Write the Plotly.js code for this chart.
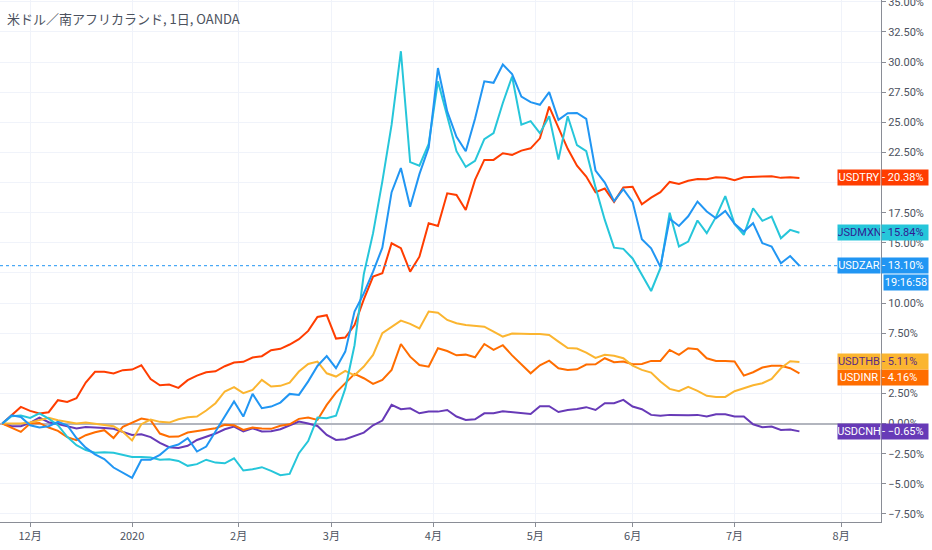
<!DOCTYPE html>
<html>
<head>
<meta charset="utf-8">
<script src="https://cdn.plot.ly/plotly-3.0.1.min.js"></script>
<style>
html,body{margin:0;padding:0;background:#ffffff;}
#chart{width:932px;height:550px;}
</style>
</head>
<body>
<div id="chart"></div>
<script>
// ---- data (percent change since first bar, sampled every second trading day) ----
const firstDay = '2019-11-22';
const lastDay = '2020-07-21';

const usdtry = [0, 0.69, 1.38, 1.05, 0.83, 0.94, 1.94, 1.8, 2.1, 3.4,
  4.3, 4.29, 4.15, 4.43, 4.48, 4.84, 3.7, 3.18, 3.24, 2.96,
  3.6, 3.98, 4.26, 4.34, 4.76, 5.06, 5.12, 5.48, 5.59, 6.09,
  6.2, 6.56, 7.0, 7.69, 8.85, 8.99, 7.05, 7.14, 8.18, 10.3,
  12.2, 12.47, 14.96, 14.55, 12.61, 13.85, 16.62, 16.4, 19.11, 18.97,
  17.73, 20.22, 21.88, 21.88, 22.43, 22.3, 22.65, 22.84, 23.67, 26.3,
  24.5, 22.8, 21.4, 20.5, 19.2, 19.5, 18.4, 19.6, 19.65, 18.2,
  18.75, 19.2, 20.05, 19.88, 20.15, 20.3, 20.28, 20.44, 20.39, 20.19,
  20.44, 20.5, 20.5, 20.53, 20.39, 20.44, 20.38];

const usdmxn = [0, 0.6, 0.66, 0.47, 0.85, 0.41, -0.14, -1.1, -1.8, -2.2,
  -2.43, -2.38, -2.43, -2.63, -2.77, -2.77, -2.82, -3.0, -2.96, -3.1,
  -3.51, -3.37, -3.0, -3.24, -3.3, -2.88, -3.9, -3.79, -3.62, -3.93,
  -4.29, -4.18, -2.46, -1.45, 0.5, 0.45, 0.65, 2.9, 6.5, 12.4,
  15.8, 20.1, 24.8, 30.9, 21.7, 21.4, 23.2, 28.4, 25.6, 22.6,
  21.3, 21.8, 23.6, 24.1, 26.6, 28.8, 24.8, 25.1, 24.1, 25.5,
  21.9, 25.5, 23.1, 22.6, 19.6, 16.9, 14.6, 14.5, 13.7, 12.3,
  11.0, 12.9, 17.5, 14.7, 15.1, 16.85, 15.8, 17.15, 18.87, 16.57,
  15.66, 17.87, 16.82, 17.18, 15.38, 16.07, 15.84];

const usdzar = [0, 0.69, 0.55, -0.14, -0.33, -0.22, 0.14, -0.14, -1.2, -2.0,
  -2.55, -2.95, -3.65, -4.05, -4.5, -3.0, -3.0, -2.6, -1.95, -1.74,
  -1.22, -2.32, -1.91, -0.66, 0.58, 1.83, 0.58, 2.46, 1.27, 1.41,
  1.74, 2.46, 2.38, 3.5, 4.78, 5.6, 4.6, 5.97, 9.3, 10.8,
  12.6, 14.6, 19.2, 21.2, 18.0, 20.7, 22.9, 29.5, 25.9, 23.8,
  22.6, 25.3, 28.4, 28.28, 29.8, 29.0, 27.14, 26.67, 26.45, 27.5,
  25.2, 25.75, 25.78, 25.28, 21.0, 20.0, 18.45, 19.45, 18.4, 15.3,
  14.55, 13.0, 17.0, 16.4, 17.2, 18.42, 17.6, 17.04, 17.65, 16.57,
  15.93, 16.63, 14.97, 14.69, 13.3, 13.9, 13.10];

const usdthb = [0, 0, 0, 0.08, 0.28, 0.47, 0.28, 0.14, 0, 0.08,
  0, -0.08, -0.22, -0.69, -1.4, -0.05, 0.33, 0.14, 0.08, 0.36,
  0.53, 0.58, 1.08, 1.69, 2.66, 3.02, 2.52, 2.79, 3.62, 3.07,
  3.13, 3.4, 4.32, 4.95, 5.14, 4.17, 3.9, 4.37, 4.0, 4.73,
  5.7, 7.5, 8.04, 8.54, 8.27, 7.9, 9.3, 9.2, 8.6, 8.32,
  8.18, 8.1, 8.04, 7.63, 7.22, 7.47, 7.43, 7.43, 7.43, 7.35,
  6.8, 6.27, 6.22, 5.89, 5.45, 5.7, 5.62, 5.42, 4.81, 4.45,
  4.23, 3.49, 2.88, 2.68, 3.04, 2.71, 2.3, 2.21, 2.21, 2.68,
  2.93, 3.18, 3.35, 3.71, 4.59, 5.17, 5.11];

const usdinr = [0, -0.33, -0.69, 0, 0.05, -0.33, -0.61, -1.13, -1.38, -0.97,
  -0.72, -0.55, -1.2, -0.28, 0.08, 0.41, 0.28, -0.83, -1.1, -1.08,
  -0.75, -0.61, -0.47, -0.39, -0.11, -0.14, -0.53, -0.33, -0.41, -0.44,
  -0.19, -0.06, 0.39, 0.5, 0.3, 1.55, 2.57, 3.34, 4.12, 3.76,
  3.29, 3.62, 4.45, 6.6, 5.55, 4.86, 4.72, 6.25, 6.02, 5.66,
  5.72, 5.5, 6.6, 6.11, 6.5, 5.66, 4.94, 4.17, 4.84, 5.22,
  4.59, 4.45, 4.5, 4.9, 4.92, 5.42, 5.09, 5.15, 4.92, 4.95,
  5.2, 5.2, 6.11, 5.7, 6.25, 6.17, 5.42, 5.2, 5.2, 5.15,
  3.98, 4.26, 4.65, 4.79, 4.79, 4.59, 4.16];

const usdcnh = [0, -0.22, -0.22, 0.05, 0.5, 0.11, -0.03, -0.22, -0.41, -0.28,
  -0.3, -0.36, -0.44, -0.72, -0.94, -0.89, -1.13, -1.6, -1.96, -2.02,
  -1.85, -1.36, -1.11, -0.83, -0.47, -0.25, -0.66, -0.39, -0.66, -0.64,
  -0.47, -0.17, 0.17, 0.0, -0.2, -0.95, -1.36, -1.3, -1.03, -0.75,
  -0.14, 0.25, 1.55, 1.19, 1.27, 0.85, 0.99, 0.99, 1.13, 0.58,
  0.3, 0.35, 0.85, 0.85, 1.02, 0.96, 0.91, 0.8, 1.44, 1.44,
  0.96, 1.13, 1.21, 1.36, 1.13, 1.69, 1.69, 1.96, 1.41, 1.19,
  0.72, 0.64, 0.72, 0.69, 0.69, 0.72, 0.58, 0.77, 0.77, 0.58,
  0.58, -0.06, -0.3, -0.25, -0.53, -0.5, -0.65];

const seriesNames = ['USDCNH', 'USDINR', 'USDTHB', 'USDTRY', 'USDMXN', 'USDZAR'];
const seriesColors = ['#673ab7', '#ff6d00', '#fbb530', '#ff3d00', '#26c6da', '#2196f3'];
const tagTextColors = ['#ffffff', '#ffffff', '#5b2c83', '#ffffff', '#311b92', '#ffffff'];
const tagShift = [0, -4, 0, 0, 0, 0];

const monthTickDates = ['2019-12-02', '2020-01-01', '2020-02-03', '2020-03-02', '2020-04-01',
  '2020-05-01', '2020-06-01', '2020-07-01', '2020-08-03'];
const monthTickLabels = ['12月', '2020', '2月', '3月', '4月', '5月', '6月', '7月', '8月'];

const yTickValues = [-7.5, -5, -2.5, 0, 2.5, 5, 7.5, 10, 12.5, 15, 17.5, 20, 22.5, 25, 27.5, 30, 32.5, 35];
// labels that sit fully behind a price tag in the reference
const yTicksHidden = [5, 12.5, 20];

const titleText = '米ドル／南アフリカランド, 1日, OANDA';
const clockText = '19:16:58';

// ---- build ----
function tradingDays(startIso, endIso) {
  const out = [];
  const d = new Date(startIso + 'T00:00:00Z');
  const end = new Date(endIso + 'T00:00:00Z');
  while (d <= end) {
    const w = d.getUTCDay();
    if (w !== 0 && w !== 6) out.push(d.toISOString().slice(0, 10));
    d.setUTCDate(d.getUTCDate() + 1);
  }
  return out;
}
const dates = tradingDays(firstDay, lastDay).filter((_, i) => i % 2 === 0);

const allSeries = [usdcnh, usdinr, usdthb, usdtry, usdmxn, usdzar];

const traces = allSeries.map((vals, i) => ({
  type: 'scatter',
  mode: 'lines',
  name: seriesNames[i],
  x: dates,
  y: vals,
  line: {color: seriesColors[i], width: 2},
  hoverinfo: 'skip'
}));

function fmtPct(v) {
  const s = Math.abs(v).toFixed(2) + '%';
  return v < 0 ? '\u2212' + s : s;
}
const yTickText = yTickValues.map(v => yTicksHidden.includes(v) ? '' : fmtPct(v));

const tagFont = 'Roboto, "Liberation Sans", Arial, sans-serif';
const annotations = [];
allSeries.forEach((vals, i) => {
  const last = vals[vals.length - 1];
  annotations.push({
    xref: 'paper', yref: 'y', x: 1, y: last, xanchor: 'right', yanchor: 'middle',
    text: seriesNames[i], showarrow: false, bgcolor: seriesColors[i],
    font: {family: tagFont, size: 11, color: tagTextColors[i]},
    width: 42, height: 15, borderpad: 0, yshift: tagShift[i]
  });
  annotations.push({
    xref: 'paper', yref: 'y', x: 1, y: last, xanchor: 'left', yanchor: 'middle',
    text: '- ' + fmtPct(last), showarrow: false, bgcolor: seriesColors[i], align: 'left',
    font: {family: tagFont, size: 11, color: tagTextColors[i]},
    width: 46, height: 15, borderpad: 0, yshift: tagShift[i], xshift: 0
  });
});
const zarLast = usdzar[usdzar.length - 1];
annotations.push({
  xref: 'paper', yref: 'y', x: 1, y: zarLast, xanchor: 'left', yanchor: 'top',
  text: clockText, showarrow: false, bgcolor: '#2196f3',
  font: {family: tagFont, size: 11, color: '#ffffff'},
  width: 44, height: 15, borderpad: 0, yshift: -8, xshift: 2
});
annotations.push({
  xref: 'paper', yref: 'paper', x: 0, y: 1, xanchor: 'left', yanchor: 'top',
  text: titleText, showarrow: false, xshift: 5, yshift: -7,
  font: {family: '"Noto Sans CJK JP", "Noto Sans", sans-serif', size: 13, color: '#4c525e'}
});

const layout = {
  width: 932, height: 550,
  margin: {l: 0, r: 51, t: 0, b: 28, pad: 0},
  paper_bgcolor: '#ffffff', plot_bgcolor: '#ffffff',
  showlegend: false,
  hovermode: false,
  xaxis: {
    type: 'date',
    range: ['2019-11-21 12:00', '2020-08-13 14:24'],
    rangebreaks: [{bounds: ['sat', 'mon']}],
    tickmode: 'array', tickvals: monthTickDates, ticktext: monthTickLabels,
    showgrid: true, gridcolor: '#f0f3fa', gridwidth: 1,
    showline: true, linecolor: '#8a8d96', linewidth: 1,
    ticks: 'outside', ticklen: 4, tickcolor: '#8a8d96',
    tickfont: {family: '"Noto Sans CJK JP", "Noto Sans", sans-serif', size: 11, color: '#4c525e'},
    zeroline: false, fixedrange: true
  },
  yaxis: {
    side: 'right',
    range: [-8.17, 35.15],
    tickmode: 'array', tickvals: yTickValues, ticktext: yTickText,
    ticklabeloverflow: 'allow',
    showgrid: true, gridcolor: '#f0f3fa', gridwidth: 1,
    zeroline: true, zerolinecolor: '#b2b5be', zerolinewidth: 2,
    showline: true, linecolor: '#8a8d96', linewidth: 1,
    ticks: 'outside', ticklen: 4, tickcolor: '#8a8d96',
    tickfont: {family: tagFont, size: 11, color: '#4c525e'},
    fixedrange: true
  },
  shapes: [{
    type: 'line', xref: 'paper', yref: 'y', x0: 0, x1: 1, y0: zarLast, y1: zarLast,
    line: {color: '#2196f3', width: 1, dash: 'dot'}
  }],
  annotations: annotations
};

Plotly.newPlot('chart', traces, layout, {staticPlot: true, displayModeBar: false});
</script>
</body>
</html>
